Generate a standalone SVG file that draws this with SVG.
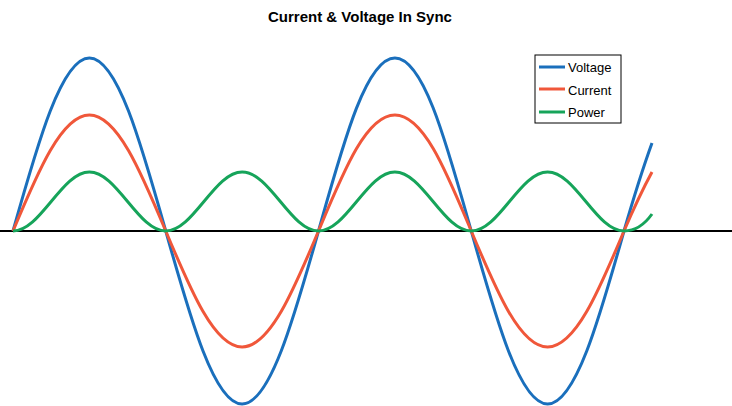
<svg xmlns="http://www.w3.org/2000/svg" width="732" height="406" viewBox="0 0 732 406">
<style>
.w{fill:none;stroke-width:3;stroke-linejoin:round;stroke-linecap:butt}
.v{stroke:#1a6fbc}.c{stroke:#f0573a}.p{stroke:#16a45a}
text{font-family:"Liberation Sans",Arial,sans-serif;fill:#000}
.lg{font-size:13px}
</style>
<rect width="732" height="406" fill="#fff"/>
<text x="360" y="22" text-anchor="middle" font-size="15" font-weight="bold">Current &amp; Voltage In Sync</text>
<g id="axis"><line x1="0" y1="231" x2="732" y2="231" stroke="#000" stroke-width="2"/></g>
<g id="connectors">
<path id="voltage" class="w v" d="M13,231 C37.9,142.4 61.7,58 89.4,58 S140.85,142.4 165.75,231 S214.5,404 242.1,404 S293.6,319.6 318.5,231 S366.2,58 394.9,58 S446.3,142.4 471.25,231 S519.9,404 547.6,404 S599.1,319.6 624,231 Q639,179 652,143"/>
<path id="current" class="w c" d="M13,231 C37.9,171.6 61.7,115 89.4,115 S140.85,171.6 165.75,231 S214.5,347 242.1,347 S293.6,290.4 318.5,231 S366.2,115 394.9,115 S446.3,171.6 471.25,231 S519.9,347 547.6,347 S599.1,290.4 624,231 Q639,196 652,172"/>
<path id="power" class="w p" d="M13,231 C26.82,231 38.74,216.6 51.19,201.5 S75.56,172 89.375,172 S115.11,186.4 127.56,201.5 S151.93,231 165.75,231 S191.49,216.6 203.94,201.5 S228.31,172 242.125,172 S267.86,186.4 280.31,201.5 S304.68,231 318.5,231 S344.24,216.6 356.69,201.5 S381.06,172 394.875,172 S420.61,186.4 433.06,201.5 S457.43,231 471.25,231 S496.99,216.6 509.44,201.5 S533.81,172 547.625,172 S573.36,186.4 585.81,201.5 S610.18,231 624,231 Q640,231 652,214"/>
</g>
<g id="legend">
<rect x="535" y="55" width="86" height="68" fill="#fff" stroke="#000" stroke-width="1"/>
<line class="w v" x1="539" y1="67" x2="565" y2="67"/>
<line class="w c" x1="539" y1="89" x2="565" y2="89"/>
<line class="w p" x1="539" y1="112" x2="565" y2="112"/>
<text class="lg" x="568" y="72">Voltage</text>
<text class="lg" x="568" y="95">Current</text>
<text class="lg" x="568" y="117">Power</text>
</g>
</svg>
